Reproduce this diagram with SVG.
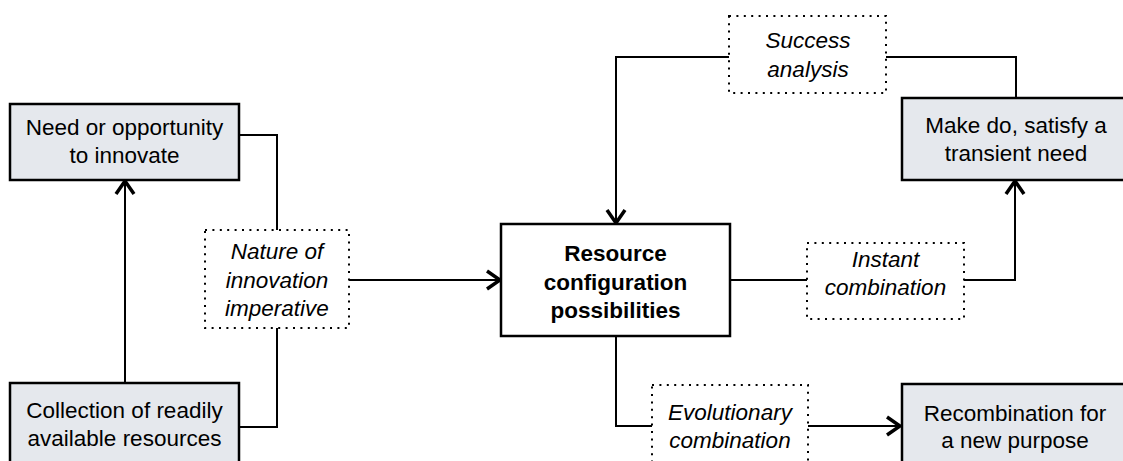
<svg xmlns="http://www.w3.org/2000/svg" width="1123" height="461" viewBox="0 0 1123 461">
  <style>
    .box { fill: #e5e8ed; stroke: #000; stroke-width: 2.5; }
    .main { fill: #fff; stroke: #000; stroke-width: 2.5; }
    .note { fill: #fff; stroke: #000; stroke-width: 2; stroke-dasharray: 2 5.4; }
    .txt { font-family: "Liberation Sans", Arial, sans-serif; font-size: 22.5px; fill: #000; text-anchor: middle; }
    .it { font-style: italic; }
    .bd { font-weight: bold; }
    .wire { fill: none; stroke: #000; stroke-width: 2; }
    .arr { marker-end: url(#chev); }
  </style>
  <defs>
    <!-- open chevron arrowhead -->
    <marker id="chev" viewBox="0 0 18 22" refX="15.5" refY="11" markerWidth="18" markerHeight="22" markerUnits="userSpaceOnUse" orient="auto">
      <path d="M2.5,2 L15.5,11 L2.5,20" fill="none" stroke="#000" stroke-width="3.5"/>
    </marker>
  </defs>
  <rect width="1123" height="461" fill="#fff"/>

  <g id="connectors">
    <!-- need box and resource box join the imperative note -->
    <path class="wire" d="M239,135 H277 V230"/>
    <path class="wire" d="M239,427 H277 V328"/>
    <!-- resources feed the need -->
    <path class="wire arr" d="M125,383 V181"/>
    <!-- imperative into configuration -->
    <path class="wire arr" d="M349,280 H500"/>
    <!-- success analysis loop -->
    <path class="wire" d="M1016,98 V57 H886"/>
    <path class="wire arr" d="M729,57 H616 V223"/>
    <!-- instant combination -->
    <path class="wire" d="M730,280 H807"/>
    <path class="wire arr" d="M964,280 H1015 V181"/>
    <!-- evolutionary combination -->
    <path class="wire" d="M616,336 V426 H652"/>
    <path class="wire arr" d="M808,426 H900"/>
  </g>

  <g id="need">
    <rect class="box" x="10" y="104" width="229" height="76"/>
    <text class="txt" x="124.5" y="135">Need or opportunity</text>
    <text class="txt" x="124.5" y="163">to innovate</text>
  </g>

  <g id="collection">
    <rect class="box" x="10" y="383" width="229" height="90"/>
    <text class="txt" x="124.5" y="418">Collection of readily</text>
    <text class="txt" x="124.5" y="446">available resources</text>
  </g>

  <g id="imperative">
    <rect class="note" x="205" y="230" width="144" height="98"/>
    <text class="txt it" x="277" y="259">Nature of</text>
    <text class="txt it" x="277" y="288">innovation</text>
    <text class="txt it" x="277" y="316">imperative</text>
  </g>

  <g id="configuration">
    <rect class="main" x="501" y="224" width="229" height="112"/>
    <text class="txt bd" x="615.5" y="261">Resource</text>
    <text class="txt bd" x="615.5" y="290">configuration</text>
    <text class="txt bd" x="615.5" y="318">possibilities</text>
  </g>

  <g id="success">
    <rect class="note" x="729" y="16" width="157" height="77"/>
    <text class="txt it" x="808" y="48">Success</text>
    <text class="txt it" x="808" y="77">analysis</text>
  </g>

  <g id="makedo">
    <rect class="box" x="902" y="98" width="228" height="82"/>
    <text class="txt" x="1016" y="133">Make do, satisfy a</text>
    <text class="txt" x="1016" y="161">transient need</text>
  </g>

  <g id="instant">
    <rect class="note" x="807" y="243" width="157" height="76"/>
    <text class="txt it" x="885.5" y="267">Instant</text>
    <text class="txt it" x="885.5" y="295">combination</text>
  </g>

  <g id="evolutionary">
    <rect class="note" x="652" y="385" width="156" height="90"/>
    <text class="txt it" x="730" y="420">Evolutionary</text>
    <text class="txt it" x="730" y="448">combination</text>
  </g>

  <g id="recombination">
    <rect class="box" x="902" y="384" width="228" height="90"/>
    <text class="txt" x="1015" y="421">Recombination for</text>
    <text class="txt" x="1015" y="448">a new purpose</text>
  </g>
</svg>
